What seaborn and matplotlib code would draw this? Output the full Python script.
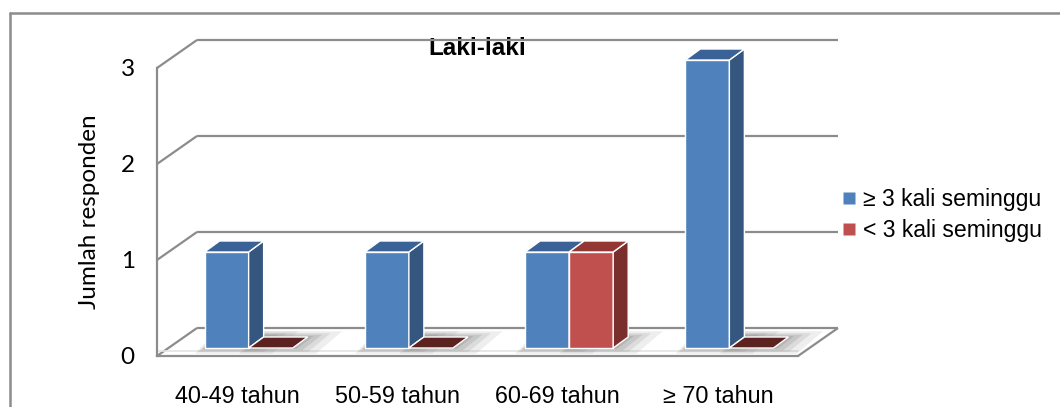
import numpy as np
import pandas as pd
import matplotlib
matplotlib.use("Agg")
import matplotlib.pyplot as plt
from matplotlib.patches import Polygon
from matplotlib.lines import Line2D
import seaborn as sns

# ---- data ----
kelompok_usia = ["40-49 tahun", "50-59 tahun", "60-69 tahun", "\u2265 70 tahun"]
frekuensi = ["\u2265 3 kali seminggu", "< 3 kali seminggu"]
sering = [1, 1, 1, 3]
jarang = [0, 0, 1, 0]
y_ticks = [0, 1, 2, 3]
judul = "Laki-laki"
label_y = "Jumlah responden"

df = pd.DataFrame({
    "usia": kelompok_usia * 2,
    "frekuensi": [frekuensi[0]] * 4 + [frekuensi[1]] * 4,
    "jumlah": sering + jarang,
})

# ---- style ----
sns.set_theme(style="white")
plt.rcParams["font.family"] = ["Liberation Sans", "DejaVu Sans"]
plt.rcParams["text.color"] = "black"
plt.rcParams["axes.labelcolor"] = "black"

face = {"blue": "#4f81bd", "red": "#c0504d"}
side = {"blue": "#34567f", "red": "#7b2f2d"}
top = {"blue": "#3b6296", "red": "#943634"}
flat = {"blue": "#2f4d74", "red": "#5c2220"}
grid_col = "#8c8c8c"

W, H = 1060, 407
fig = plt.figure(figsize=(W / 100, H / 100), dpi=100)
fig.patch.set_facecolor("white")

# front plane of the 3-D box, in pixels
left, right, bottom, topp = 157, 798, 356, 68
ax = fig.add_axes([left / W, 1 - bottom / H, (right - left) / W, (bottom - topp) / H])
ax.set_facecolor("none")

sns.barplot(data=df, x="usia", y="jumlah", hue="frekuensi",
            palette=[face["blue"], face["red"]], width=0.55,
            order=kelompok_usia, hue_order=frekuensi,
            ax=ax, legend=False, saturation=1)

ax.set_xlim(-0.5, 3.5)
ax.set_ylim(0, 3)

px_x = (right - left) / 4.0
px_y = (bottom - topp) / 3.0
# depth of the back wall and of the bar slab (data units)
wall_dx, wall_dy = 40 / px_x, 28 / px_y
bar_dx0, bar_dy0 = 11.5 / px_x, 8 / px_y
bar_dx, bar_dy = 15 / px_x, 11 / px_y

# ---- walls and floor ----
wall_kw = dict(color=grid_col, lw=1.6, clip_on=False, zorder=1, solid_capstyle="butt")
x0, x1 = -0.5, 3.5
for t in y_ticks:
    ax.plot([x0 + wall_dx, x1 + wall_dx], [t + wall_dy, t + wall_dy], **wall_kw)
    ax.plot([x0, x0 + wall_dx], [t, t + wall_dy], **wall_kw)
# floor right edge and thin front lip
ax.plot([x1, x1 + wall_dx], [0, wall_dy], **wall_kw)
ax.plot([x0 + 0.01, x1], [0.05, 0.05], color="#e3e3e3", lw=1.2, clip_on=False, zorder=1)

# ---- 3-D bars built from the seaborn rectangles ----
colour_keys = ["blue", "red"]
bars = []
for ci, cont in enumerate(ax.containers):
    key = colour_keys[ci]
    for rect in cont.patches:
        bars.append((rect.get_x(), rect, key))
bars.sort(key=lambda b: (round(b[0] + 0.5), b[0]))

# soft shadows on the floor
for _, rect, key in bars:
    x = rect.get_x() + bar_dx0
    w = rect.get_width()
    y = bar_dy0
    for grow, a in [(0.12, 0.14), (0.08, 0.18), (0.05, 0.24), (0.02, 0.3)]:
        gx = grow
        gy = grow * 0.5
        shadow = Polygon([(x - gx * 0.5, y - gy), (x + w + gx * 1.2, y - gy),
                          (x + w + bar_dx + gx * 1.8, y + bar_dy + gy),
                          (x + bar_dx - gx * 0.2, y + bar_dy + gy)],
                         closed=True, facecolor="#8a8a8a", edgecolor="none",
                         alpha=a, zorder=1.5, clip_on=False)
        ax.add_patch(shadow)

z = 3
for _, rect, key in bars:
    x = rect.get_x() + bar_dx0
    y = rect.get_y() + bar_dy0
    w = rect.get_width()
    h = rect.get_height()
    rect.set_xy((x, y))
    rect.set_clip_on(False)
    rect.set_edgecolor("white")
    rect.set_linewidth(1.0)
    rect.set_zorder(z)
    if h > 0:
        side_poly = Polygon([(x + w, y), (x + w + bar_dx, y + bar_dy),
                             (x + w + bar_dx, y + h + bar_dy), (x + w, y + h)],
                            closed=True, facecolor=side[key], edgecolor="white",
                            lw=1.0, zorder=z, clip_on=False)
        top_poly = Polygon([(x, y + h), (x + bar_dx, y + h + bar_dy),
                            (x + w + bar_dx, y + h + bar_dy), (x + w, y + h)],
                           closed=True, facecolor=top[key], edgecolor="white",
                           lw=1.0, zorder=z, clip_on=False)
        ax.add_patch(side_poly)
        ax.add_patch(top_poly)
    else:
        rect.set_visible(False)
        top_poly = Polygon([(x, y), (x + bar_dx, y + bar_dy),
                            (x + w + bar_dx, y + bar_dy), (x + w, y)],
                           closed=True, facecolor=flat[key], edgecolor="white",
                           lw=1.0, zorder=z, clip_on=False)
        ax.add_patch(top_poly)
    z += 0.1

# ---- axes ----
for s in ["top", "right"]:
    ax.spines[s].set_visible(False)
for s in ["left", "bottom"]:
    ax.spines[s].set_color(grid_col)
    ax.spines[s].set_linewidth(1.6)
    ax.spines[s].set_zorder(2)

ax.set_yticks(y_ticks)
ax.set_yticklabels([str(t) for t in y_ticks], family=["Lato", "DejaVu Sans"], fontsize=17.5)
ax.tick_params(axis="y", direction="out", length=7, width=1.6, color=grid_col,
               labelcolor="black", pad=9)

ax.set_xticks(range(len(kelompok_usia)))
ax.set_xticklabels(kelompok_usia, fontsize=16.8)
ax.set_xticks(np.arange(-0.5, 4.0, 1.0), minor=True)
ax.tick_params(axis="x", which="major", length=0, pad=21, labelcolor="black")
ax.tick_params(axis="x", which="minor", direction="out", length=7, width=1.6, color=grid_col)

ax.set_xlabel("")
ax.set_ylabel(label_y, family=["Lato", "DejaVu Sans"], fontsize=17.5, labelpad=15)

ax.set_title(judul, fontsize=17.5, fontweight="bold", color="black", y=1.0, pad=9.5)
ax.title.set_zorder(0.5)

# ---- legend ----
handles = [Line2D([], [], marker="s", linestyle="none", markersize=8,
                  markerfacecolor=face[k], markeredgecolor="none") for k in colour_keys]
leg = fig.legend(handles, frekuensi, loc="center left",
                 bbox_to_anchor=(833 / W, 1 - 215 / H), frameon=False,
                 fontsize=16.6, handlelength=0.6, handletextpad=0.3, labelspacing=0.32,
                 borderaxespad=0)
for t in leg.get_texts():
    t.set_color("black")

# ---- outer frame ----
fig.add_artist(Line2D([10 / W, 1.0], [1 - 13 / H, 1 - 13 / H], color=grid_col, lw=1.8))
fig.add_artist(Line2D([10 / W, 10 / W], [1 - 13 / H, 0.0], color=grid_col, lw=1.8))

fig.savefig("out.png", dpi=100, facecolor="white")
